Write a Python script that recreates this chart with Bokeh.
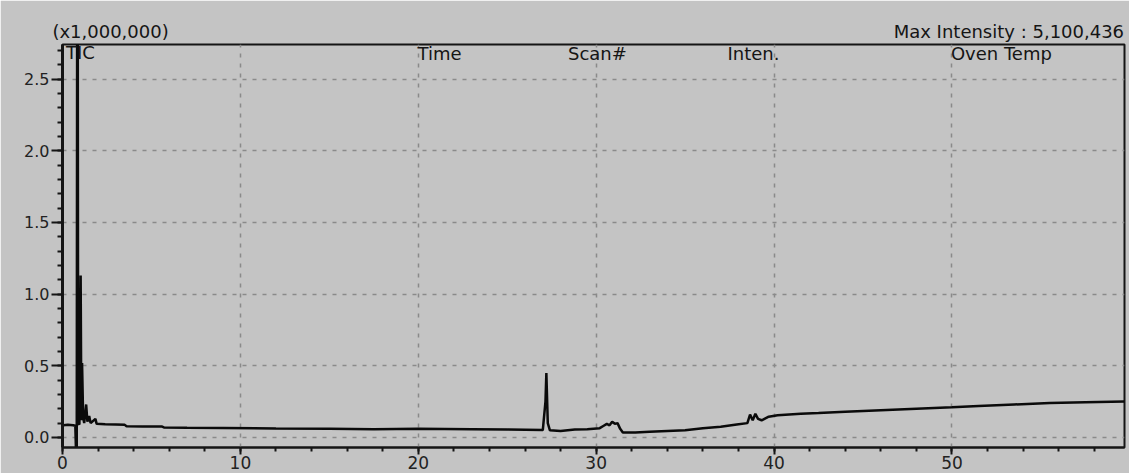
from bokeh.plotting import figure
from bokeh.models import Range1d, SingleIntervalTicker, FixedTicker, PrintfTickFormatter, Label, LinearAxis
from bokeh.embed import file_html
from bokeh.resources import INLINE

# retention time (min) and TIC intensity (x1,000,000)
time_min = [0.05, 0.3, 0.6, 0.72, 0.76, 0.80, 0.84, 0.88, 0.95, 1.02, 1.06, 1.10, 1.16,
            1.22, 1.33, 1.40, 1.50, 1.58, 1.85, 1.92, 2.4, 3.0, 3.5, 3.6, 4.5, 5.6, 5.7,
            7.0, 9.0, 12.0, 15.0, 17.5, 20.0, 23.0, 25.0, 27.0, 27.15, 27.2, 27.28, 27.4,
            28.0, 28.8, 29.5, 30.2, 30.4, 30.6, 30.75, 30.9, 31.05, 31.2, 31.35, 31.5,
            32.2, 33.0, 34.0, 35.0, 36.0, 37.0, 37.9, 38.5, 38.65, 38.8, 38.95, 39.1,
            39.3, 39.7, 40.2, 41.5, 42.5, 44.0, 46.0, 48.0, 50.0, 51.5, 53.5, 55.5,
            57.5, 59.7]
intensity = [0.085, 0.088, 0.085, 0.082, -0.10, -0.10, 5.10, 0.10, 0.09, 1.13, 0.12,
             0.52, 0.14, 0.10, 0.23, 0.11, 0.15, 0.10, 0.13, 0.095, 0.092, 0.090,
             0.088, 0.078, 0.077, 0.076, 0.070, 0.068, 0.066, 0.062, 0.060, 0.058,
             0.060, 0.058, 0.055, 0.052, 0.25, 0.45, 0.10, 0.05, 0.045, 0.055, 0.058,
             0.065, 0.08, 0.095, 0.085, 0.11, 0.095, 0.10, 0.06, 0.035, 0.035, 0.04,
             0.045, 0.05, 0.065, 0.075, 0.09, 0.10, 0.16, 0.12, 0.165, 0.13, 0.12,
             0.145, 0.155, 0.165, 0.17, 0.18, 0.19, 0.20, 0.21, 0.22, 0.23, 0.24,
             0.245, 0.25]

header_labels = ["Time", "Scan#", "Inten.", "Oven Temp"]
trace_name = "TIC"
scale_text = "(x1,000,000)"
max_text = "Max Intensity : 5,100,436"

BG = "#c4c4c4"
INK = "#151515"
FONT = "DejaVu Sans"

p = figure(width=1129, height=473, output_backend="svg", toolbar_location=None,
           x_range=Range1d(0, 59.7), y_range=Range1d(-0.07, 2.741),
           min_border_left=62, min_border_right=5, min_border_top=44, min_border_bottom=26)

p.background_fill_color = BG
p.border_fill_color = BG
p.outline_line_color = INK
p.outline_line_width = 2

p.line(time_min, intensity, line_color="#0a0a0a", line_width=2.5)

# axes
p.xaxis.ticker = SingleIntervalTicker(interval=10, num_minor_ticks=5)
p.yaxis.ticker = SingleIntervalTicker(interval=0.5, num_minor_ticks=5)
p.yaxis.formatter = PrintfTickFormatter(format="%.1f")
for ax in (p.xaxis, p.yaxis):
    ax.axis_line_color = INK
    ax.major_tick_line_color = INK
    ax.minor_tick_line_color = INK
    ax.major_tick_line_width = 2
    ax.minor_tick_line_width = 2
    ax.major_tick_in = 0
    ax.minor_tick_in = 0
    ax.major_label_text_color = "#222222"
    ax.major_label_text_font = FONT
p.yaxis.axis_line_width = 3
p.xaxis.axis_line_width = 2
p.yaxis.major_tick_out = 11
p.yaxis.minor_tick_out = 5
p.xaxis.major_tick_out = 7
p.xaxis.minor_tick_out = 4
p.yaxis.major_label_text_font_size = "16px"
p.xaxis.major_label_text_font_size = "17px"
p.yaxis.major_label_standoff = 2
p.xaxis.major_label_standoff = 1

# header texts above the frame, carried by a bare axis on top
top_ticks = [2.7, 53.2]
top_axis = LinearAxis(ticker=FixedTicker(ticks=top_ticks),
                      major_label_overrides={top_ticks[0]: scale_text, top_ticks[1]: max_text},
                      axis_line_alpha=0, major_tick_line_alpha=0, minor_tick_line_alpha=0,
                      major_tick_out=0, major_tick_in=0, minor_tick_out=0, minor_tick_in=0,
                      major_label_standoff=3, major_label_text_font=FONT,
                      major_label_text_font_size="18px", major_label_text_color=INK)
p.add_layout(top_axis, "above")

# grid
for g in (p.xgrid, p.ygrid):
    g.grid_line_color = "#8a8a8a"
    g.grid_line_dash = "4 6"
    g.grid_line_width = 1.5

def add_label(x, y, text, align):
    p.add_layout(Label(x=x, y=y, text=text, text_align=align, text_baseline="middle",
                       text_font=FONT, text_font_size="18px", text_color=INK))

add_label(0.2, 2.685, trace_name, "left")
for name, xc in zip(header_labels, [21.2, 30.07, 38.84, 52.78]):
    add_label(xc, 2.675, name, "center")

open("out.html", "w").write(file_html(p, INLINE))
